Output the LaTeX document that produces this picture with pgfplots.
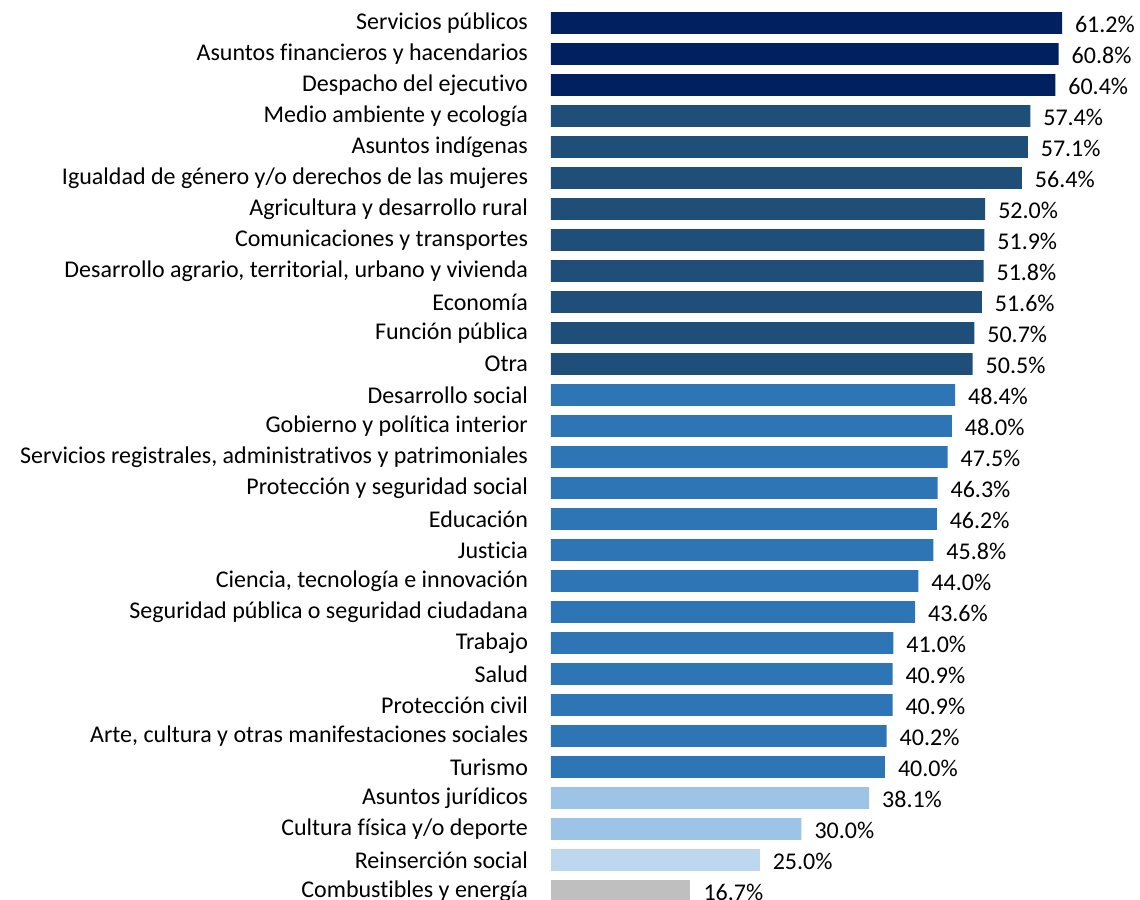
\documentclass[border=0pt]{standalone}
\usepackage{pgfplots}
\pgfplotsset{compat=1.18}
\usepackage{fontspec}
\setmainfont{Carlito}[Ligatures={NoCommon}]
\definecolor{cNavy}{HTML}{002060}
\definecolor{cDark}{HTML}{1F4E79}
\definecolor{cMid}{HTML}{2E75B6}
\definecolor{cLight}{HTML}{9DC3E6}
\definecolor{cPale}{HTML}{BDD7EE}
\definecolor{cGray}{HTML}{BFBFBF}
\begin{document}
\begin{tikzpicture}
\begin{axis}[
  x=4.175pt, y=15.5pt,
  scale only axis,
  xmin=0, xmax=70.54, ymin=-0.29, ymax=28.74,
  xbar, bar width=0.7, bar shift=0pt,
  hide x axis,
  axis y line*=left,
  y axis line style={draw=none},
  clip=true,
  /pgf/number format/assume math mode=true,
  ytick={0,...,28},
  yticklabels={{Combustibles y energía},{Reinserción social},{Cultura física y/o deporte},{Asuntos jurídicos},{Turismo},{Arte, cultura y otras manifestaciones sociales},{Protección civil},{Salud},{Trabajo},{Seguridad pública o seguridad ciudadana},{Ciencia, tecnología e innovación},{Justicia},{Educación},{Protección y seguridad social},{Servicios registrales, administrativos y patrimoniales},{Gobierno y política interior},{Desarrollo social},{Otra},{Función pública},{Economía},{Desarrollo agrario, territorial, urbano y vivienda},{Comunicaciones y transportes},{Agricultura y desarrollo rural},{Igualdad de género y/o derechos de las mujeres},{Asuntos indígenas},{Medio ambiente y ecología},{Despacho del ejecutivo},{Asuntos financieros y hacendarios},{Servicios públicos}},
  yticklabel style={font=\fontsize{12}{14}\selectfont, anchor=east, xshift=-8pt, text=black},
  major tick length=0pt,
  nodes near coords={\pgfmathprintnumber[fixed,fixed zerofill,precision=1]{\pgfplotspointmeta}\%},
  nodes near coords style={font=\fontsize{12}{14}\selectfont, anchor=west, xshift=3pt, yshift=-0.5pt, text=black},
  every axis plot/.append style={draw=none},
]
\addplot[fill=cNavy] coordinates {(60.4,26) (60.8,27) (61.2,28)};
\addplot[fill=cDark] coordinates {(50.5,17) (50.7,18) (51.6,19) (51.8,20) (51.9,21) (52.0,22) (56.4,23) (57.1,24) (57.4,25)};
\addplot[fill=cMid] coordinates {(40.0,4) (40.2,5) (40.9,6) (40.9,7) (41.0,8) (43.6,9) (44.0,10) (45.8,11) (46.2,12) (46.3,13) (47.5,14) (48.0,15) (48.4,16)};
\addplot[fill=cLight] coordinates {(30.0,2) (38.1,3)};
\addplot[fill=cPale] coordinates {(25.0,1)};
\addplot[fill=cGray] coordinates {(16.7,0)};
\coordinate (bl) at (axis cs:-65.99,-0.29);
\coordinate (tr) at (axis cs:70.54,28.74);
\end{axis}
\pgfresetboundingbox
\useasboundingbox (bl) rectangle (tr);
\end{tikzpicture}
\end{document}
